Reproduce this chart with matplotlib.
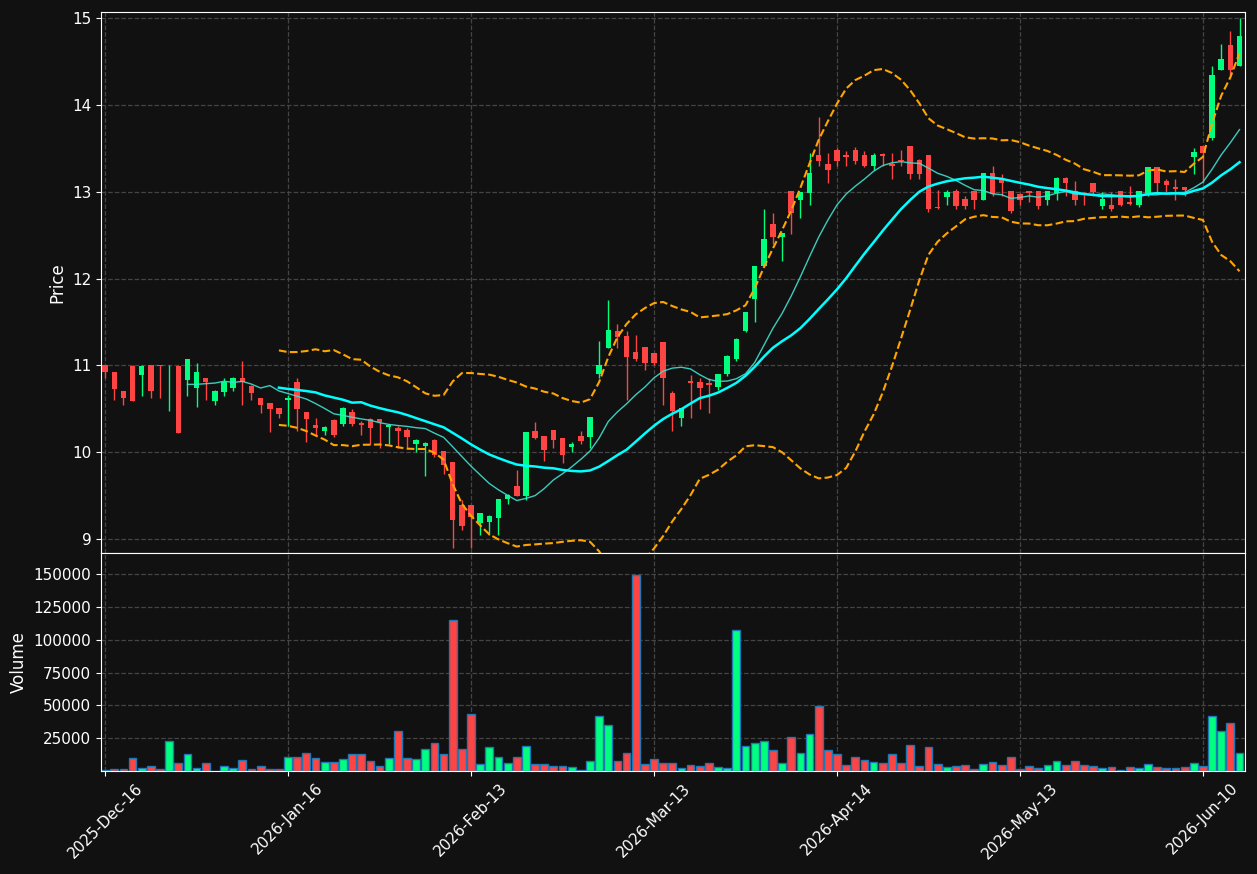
import matplotlib
matplotlib.use("Agg")
import matplotlib.pyplot as plt
import numpy as np
import pandas as pd

# daily OHLC (index = trading day)
opens = [11.0, 10.91, 10.7, 10.98, 10.89, 11.0, 11.0, 11.0, 10.98, 10.83,
         10.74, 10.85, 10.59, 10.69, 10.74, 10.85, 10.75, 10.61, 10.56, 10.5,
         10.6, 10.8, 10.45, 10.3, 10.25, 10.36, 10.33, 10.45, 10.33, 10.37,
         10.37, 10.29, 10.27, 10.25, 10.1, 10.07, 10.13, 10.0, 9.88, 9.38,
         9.38, 9.18, 9.2, 9.24, 9.46, 9.6, 9.5, 10.24, 10.18, 10.25,
         10.15, 10.06, 10.18, 10.18, 10.9, 11.2, 11.39, 11.33, 11.15, 11.2,
         11.13, 11.26, 10.67, 10.4, 10.81, 10.8, 10.79, 10.75, 10.9, 11.07,
         11.4, 11.76, 12.14, 12.62, 12.48, 13.0, 12.9, 12.99, 13.41, 13.31,
         13.47, 13.41, 13.47, 13.41, 13.3, 13.42, 13.31, 13.36, 13.52, 13.36,
         13.41, 12.82, 12.94, 13.0, 12.91, 13.0, 12.9, 13.21, 13.15, 13.0,
         12.96, 13.0, 13.0, 12.9, 12.99, 13.15, 13.0, 12.97, 13.09, 12.84,
         12.84, 13.0, 12.87, 12.85, 12.98, 13.27, 13.11, 13.04, 13.05, 13.4,
         13.52, 13.62, 14.4, 14.68, 14.45]
closes = [10.92, 10.73, 10.63, 10.59, 10.98, 10.7, 10.99, 11.0, 10.22, 11.06,
          10.92, 10.81, 10.7, 10.8, 10.85, 10.81, 10.68, 10.55, 10.5, 10.44,
          10.62, 10.5, 10.38, 10.28, 10.28, 10.2, 10.5, 10.33, 10.31, 10.28,
          10.35, 10.3, 10.25, 10.18, 10.13, 10.1, 9.97, 9.85, 9.22, 9.15,
          9.25, 9.29, 9.26, 9.45, 9.5, 9.5, 10.22, 10.17, 10.03, 10.14,
          9.97, 10.08, 10.13, 10.4, 11.0, 11.4, 11.33, 11.1, 11.07, 11.03,
          11.03, 10.85, 10.48, 10.5, 10.8, 10.74, 10.78, 10.89, 11.1, 11.3,
          11.6, 12.14, 12.45, 12.48, 12.51, 12.75, 12.99, 13.21, 13.35, 13.25,
          13.35, 13.4, 13.35, 13.3, 13.41, 13.41, 13.3, 13.35, 13.2, 13.2,
          12.8, 12.81, 12.99, 12.84, 12.84, 12.9, 13.21, 12.97, 13.1, 12.78,
          12.9, 12.99, 12.84, 13.0, 13.15, 13.1, 12.9, 12.96, 13.0, 12.91,
          12.8, 12.85, 12.86, 13.0, 13.27, 13.1, 13.08, 13.03, 13.02, 13.45,
          13.45, 14.33, 14.52, 14.4, 14.78]
highs = [11.0, 10.91, 10.7, 11.0, 11.0, 11.0, 11.0, 11.0, 11.0, 11.06,
         11.03, 10.85, 10.72, 10.85, 10.87, 11.05, 10.77, 10.62, 10.56, 10.5,
         10.66, 10.85, 10.45, 10.4, 10.3, 10.38, 10.52, 10.5, 10.36, 10.4,
         10.38, 10.32, 10.3, 10.28, 10.15, 10.12, 10.15, 10.0, 9.88, 9.45,
         9.38, 9.3, 9.28, 9.45, 9.52, 9.8, 10.22, 10.35, 10.18, 10.25,
         10.15, 10.12, 10.25, 10.4, 11.28, 11.75, 11.48, 11.4, 11.35, 11.2,
         11.13, 11.26, 10.7, 10.5, 10.89, 10.85, 10.85, 10.9, 11.12, 11.32,
         11.62, 12.15, 12.8, 12.75, 12.52, 13.0, 13.0, 13.45, 13.86, 13.45,
         13.5, 13.47, 13.52, 13.47, 13.45, 13.45, 13.45, 13.48, 13.52, 13.38,
         13.41, 13.02, 13.02, 13.03, 12.95, 13.0, 13.21, 13.3, 13.2, 13.0,
         12.98, 13.0, 13.0, 13.0, 13.17, 13.17, 13.12, 13.0, 13.1, 13.0,
         13.0, 13.0, 13.07, 13.0, 13.27, 13.27, 13.15, 13.15, 13.05, 13.5,
         13.52, 14.45, 14.7, 14.85, 15.0]
lows = [10.85, 10.6, 10.55, 10.59, 10.65, 10.62, 10.63, 10.48, 10.22, 10.65,
        10.52, 10.6, 10.55, 10.65, 10.7, 10.55, 10.6, 10.45, 10.23, 10.4,
        10.3, 10.25, 10.12, 10.2, 10.2, 10.18, 10.3, 10.3, 10.2, 10.1,
        10.05, 10.1, 10.05, 10.05, 10.0, 9.73, 9.95, 9.75, 8.9, 9.1,
        8.9, 9.05, 9.05, 9.05, 9.4, 9.5, 9.45, 10.15, 9.9, 10.05,
        9.88, 10.0, 10.1, 10.05, 10.85, 11.2, 11.2, 10.6, 11.05, 10.95,
        11.0, 10.55, 10.25, 10.3, 10.4, 10.5, 10.45, 10.72, 10.88, 11.05,
        11.38, 11.5, 12.14, 12.4, 12.2, 12.51, 12.7, 12.85, 13.3, 13.1,
        13.3, 13.3, 13.32, 13.28, 13.25, 13.3, 13.15, 13.3, 13.15, 13.15,
        12.77, 12.8, 12.85, 12.8, 12.8, 12.8, 12.9, 12.95, 12.95, 12.75,
        12.85, 12.88, 12.8, 12.85, 12.9, 12.95, 12.85, 12.85, 12.95, 12.8,
        12.78, 12.84, 12.85, 12.82, 12.95, 13.0, 13.0, 12.9, 12.95, 13.2,
        13.1, 13.6, 14.4, 14.35, 14.45]
volumes = [1000, 1300, 1300, 9600, 2000, 3500, 1300, 23000, 6000, 12600,
           2000, 6000, 300, 4000, 2000, 8000, 1300, 3500, 1300, 1300,
           11000, 11000, 13400, 9600, 6600, 6600, 8800, 12600, 12600, 7300,
           3500, 9600, 30800, 9600, 8800, 17000, 21700, 12600, 115000, 17000,
           43700, 5000, 18000, 10400, 5800, 11000, 18700, 5000, 5000, 3500,
           3500, 2800, 500, 7300, 42000, 35000, 7300, 14000, 149000, 5000,
           8800, 5800, 5800, 2000, 4300, 3500, 5800, 2800, 2000, 107000,
           19400, 21000, 22500, 15700, 5800, 26000, 14000, 28500, 49700, 15700,
           12600, 4300, 11000, 8000, 6600, 5800, 12600, 5800, 20000, 3500,
           18000, 5000, 2800, 3500, 4300, 1300, 5000, 6600, 4300, 11000,
           1300, 3500, 2000, 4300, 7300, 4300, 7300, 4300, 3500, 2000,
           2800, 500, 2800, 2000, 5000, 2800, 2000, 2000, 2800, 5800,
           3500, 42000, 30800, 36900, 14000]
tick_idx = [0, 20, 40, 60, 80, 100, 120]
tick_labels = ["2025-Dec-16", "2026-Jan-16", "2026-Feb-13", "2026-Mar-13",
               "2026-Apr-14", "2026-May-13", "2026-Jun-10"]

UP, DOWN = "#00ff7f", "#ff4444"
BG = "#111111"

o = np.array(opens); c = np.array(closes)
h = np.array(highs); l = np.array(lows)
v = np.array(volumes)
x = np.arange(len(o))
cols = np.where(c >= o, UP, DOWN)

close_s = pd.Series(c)
ma10 = close_s.rolling(10).mean()
ma20 = close_s.rolling(20).mean()
sd20 = close_s.rolling(20).std()
upper, lower = ma20 + 2 * sd20, ma20 - 2 * sd20

fig = plt.figure(figsize=(12.57, 8.74), dpi=100, facecolor=BG)
ax = fig.add_axes([101 / 1257, 1 - 553 / 874, 1144 / 1257, 541 / 874])
axv = fig.add_axes([101 / 1257, 1 - 771 / 874, 1144 / 1257, 218 / 874],
                   sharex=ax)

for a in (ax, axv):
    a.set_facecolor(BG)
    a.grid(True, color="#444444", linestyle="--", linewidth=0.9)
    a.set_axisbelow(True)
    for s in a.spines.values():
        s.set_color("white")
    a.tick_params(colors="white", labelsize=11)

ax.vlines(x, l, h, colors=cols, linewidth=1)
ax.bar(x, np.abs(c - o) + 0.01, bottom=np.minimum(o, c), width=0.6,
       color=cols)
ax.plot(x, ma10, color="#40e0d0", linewidth=1, alpha=0.9)
ax.plot(x, ma20, color="#00ffff", linewidth=1.8)
ax.plot(x, upper, color="orange", linestyle="--", linewidth=1.5)
ax.plot(x, lower, color="orange", linestyle="--", linewidth=1.5)
ax.set_ylim(8.84, 15.07)
ax.set_yticks([9, 10, 11, 12, 13, 14, 15])
ax.set_ylabel("Price", color="white", fontsize=12)
plt.setp(ax.get_xticklabels(), visible=False)

axv.bar(x, v, width=0.85, color=cols, edgecolor="#1f77b4", linewidth=1)
axv.set_ylim(0, 166000)
axv.set_yticks([25000, 50000, 75000, 100000, 125000, 150000])
axv.set_ylabel("Volume", color="white", fontsize=12)
axv.set_xlim(-0.45, len(o) - 0.4)
axv.set_xticks(tick_idx)
axv.set_xticklabels(tick_labels, rotation=45, ha="center")

fig.savefig("out.png", dpi=100, facecolor=BG)
